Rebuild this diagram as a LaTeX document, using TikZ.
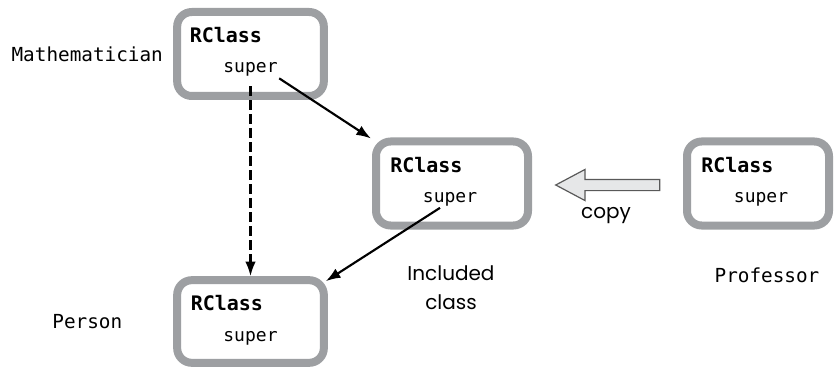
\documentclass[tikz,border=0pt]{standalone}
\usepackage{fontspec}
\setmonofont{DejaVu Sans Mono}
\newfontfamily\capfont{Poppins}
\usetikzlibrary{positioning,calc,arrows.meta,shapes.arrows}
\definecolor{boxgray}{HTML}{9D9FA2}
\definecolor{copygray}{HTML}{E6E7E8}
\tikzset{
  clsbox/.style={draw=boxgray, line width=6pt, rounded corners=11pt, minimum height=63pt, fill=white},
  clsname/.style={font=\fontsize{15}{17}\selectfont\ttfamily\bfseries, inner sep=0pt, anchor=base west},
  clssuper/.style={font=\fontsize{13.5}{15}\selectfont\ttfamily, inner sep=1pt, anchor=base},
  objlabel/.style={font=\fontsize{14.5}{16}\selectfont\ttfamily, inner sep=0pt},
  caplabel/.style={font=\fontsize{15}{22}\selectfont\capfont, align=center, inner sep=0pt},
  ptrarrow/.style={-{Latex[length=11pt,width=8pt]}, line width=1.6pt},
  copyarrow/.style={single arrow, draw=gray!70!black, fill=copygray, line width=0.9pt,
    shape border rotate=180, single arrow tip angle=56, single arrow head extend=7.5pt,
    inner xsep=0pt, inner ysep=3.75pt, minimum height=78pt},
}
\begin{document}
\begin{tikzpicture}[x=0.75pt, y=-0.75pt]
  \useasboundingbox (0,0) rectangle (834,367);

  % class boxes
  \node[clsbox, minimum width=110pt] (math) at (250.5,54) {};
  \node[clsbox, minimum width=114pt] (incl) at (452,183.5) {};
  \node[clsbox, minimum width=106.5pt] (prof) at (758,183.5) {};
  \node[clsbox, minimum width=110pt, minimum height=62pt] (person) at (250.5,321.5) {};

  % box contents
  \node[clsname] (mathcls) at ($(math.center)+(-61,-11)$) {RClass};
  \node[clssuper] (mathsup) at ($(math.center)+(0,19)$) {super};
  \node[clsname] (inclcls) at ($(incl.center)+(-62,-11)$) {RClass};
  \node[clssuper] (inclsup) at ($(incl.center)+(-2,19)$) {super};
  \node[clsname] (profcls) at ($(prof.center)+(-57,-11)$) {RClass};
  \node[clssuper] (profsup) at ($(prof.center)+(3,19)$) {super};
  \node[clsname] (personcls) at ($(person.center)+(-60,-11)$) {RClass};
  \node[clssuper] (personsup) at ($(person.center)+(0,20)$) {super};

  % object names
  \node[objlabel, left=7.5pt of math] (mathlbl) {Mathematician};
  \node[objlabel, left=38pt of person] (personlbl) {Person};
  \node[objlabel] (proflbl) at (767,275) {Professor};
  \node[caplabel] (incllbl) at (451,288) {Included\\class};

  % copy arrow
  \node[copyarrow] (cpy) at (613,185) {};
  \node[caplabel] (cpylbl) at (606,216) {copy};

  % super pointers
  \draw[ptrarrow, dash pattern=on 7pt off 3.5pt, shorten <=6pt] (mathsup.south) -- (person.north);
  \draw[ptrarrow] (mathsup.south east) -- ($(incl.north west)+(-1,1)$);
  \draw[ptrarrow] ($(inclsup.south)+(-10,0)$) -- ($(person.north east)+(-2,5)$);
\end{tikzpicture}
\end{document}
